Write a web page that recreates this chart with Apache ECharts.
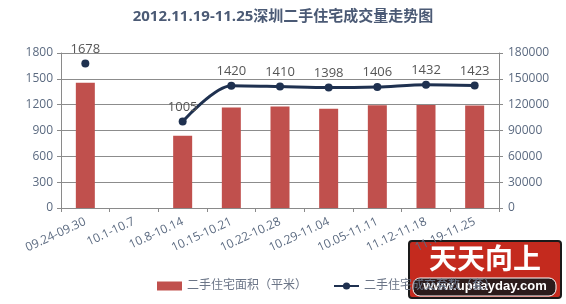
<!DOCTYPE html>
<html>
<head>
<meta charset="utf-8">
<script src="https://cdn.jsdelivr.net/npm/echarts@6/dist/echarts.min.js"></script>
<style>
  html, body { margin: 0; padding: 0; background: #fff; }
  #chart { width: 566px; height: 304px; }
</style>
</head>
<body>
<div id="chart"></div>
<script>
// Weekly second-hand housing deals in Shenzhen
const categories = ['09.24-09.30', '10.1-10.7', '10.8-10.14', '10.15-10.21', '10.22-10.28',
                    '10.29-11.04', '10.05-11.11', '11.12-11.18', '11.19-11.25'];
// floor area sold (m²), right axis
const areaValues = [145400, null, 83900, 116600, 117800, 115400, 119400, 119700, 119000];
// units sold, left axis
const unitValues = [1678, null, 1005, 1420, 1410, 1398, 1406, 1432, 1423];
const leftTicks = { min: 0, max: 1800, interval: 300 };
const rightTicks = { min: 0, max: 180000, interval: 30000 };

const FONT = "'Open Sans', 'Noto Sans CJK SC', sans-serif";
const LABEL_COLOR = '#5b6a80';
const AXIS_COLOR = '#8a8a8a';
const plain = v => String(v);

const chart = echarts.init(document.getElementById('chart'), null, { renderer: 'canvas' });
chart.setOption({
  animation: false,
  backgroundColor: '#fff',
  textStyle: { fontFamily: FONT },
  title: {
    text: '2012.11.19-11.25深圳二手住宅成交量走势图',
    left: 'center',
    top: 4,
    textStyle: { fontFamily: FONT, fontSize: 15, fontWeight: 'bold', color: '#4b5a75' }
  },
  grid: { left: 61, right: 67, top: 53, bottom: 96 },
  legend: {
    left: 152,
    top: 275,
    itemGap: 26,
    itemWidth: 25,
    itemHeight: 9,
    textStyle: { fontFamily: FONT, fontSize: 12, color: '#6b7587' },
    data: [
      { name: '二手住宅面积（平米）', icon: 'rect' },
      { name: '二手住宅成交套数（套）' }
    ]
  },
  xAxis: {
    type: 'category',
    data: categories,
    boundaryGap: true,
    axisLine: { lineStyle: { color: AXIS_COLOR, width: 1 } },
    axisTick: { show: true, length: 4, lineStyle: { color: AXIS_COLOR } },
    axisLabel: { interval: 0, rotate: 25, margin: 13, fontSize: 12, color: LABEL_COLOR, fontFamily: FONT }
  },
  yAxis: [
    {
      type: 'value',
      min: leftTicks.min, max: leftTicks.max, interval: leftTicks.interval,
      axisLine: { show: true, lineStyle: { color: AXIS_COLOR } },
      axisTick: { show: true, length: 4, lineStyle: { color: AXIS_COLOR } },
      axisLabel: { fontSize: 12, color: LABEL_COLOR, margin: 8, fontFamily: FONT, formatter: plain },
      splitLine: { show: true, lineStyle: { color: '#8c8c8c', width: 1 } }
    },
    {
      type: 'value',
      min: rightTicks.min, max: rightTicks.max, interval: rightTicks.interval,
      axisLine: { show: true, lineStyle: { color: AXIS_COLOR } },
      axisTick: { show: true, length: 4, lineStyle: { color: AXIS_COLOR } },
      axisLabel: { fontSize: 12, color: LABEL_COLOR, margin: 9, fontFamily: FONT, formatter: plain },
      splitLine: { show: false }
    }
  ],
  series: [
    {
      name: '二手住宅面积（平米）',
      type: 'bar',
      yAxisIndex: 1,
      data: areaValues,
      barWidth: 19,
      itemStyle: { color: '#c0504d' }
    },
    {
      name: '二手住宅成交套数（套）',
      type: 'line',
      yAxisIndex: 0,
      data: unitValues,
      smooth: 0.3,
      connectNulls: false,
      symbol: 'circle',
      symbolSize: 8,
      lineStyle: { color: '#1f3150', width: 3 },
      itemStyle: { color: '#1f3150' },
      label: {
        show: true, position: 'top', distance: 4,
        fontSize: 13, color: '#555', fontFamily: FONT
      },
      z: 5
    }
  ],
  graphic: [
    {
      type: 'group',
      left: 408,
      top: 240,
      z: 100,
      children: [
        { type: 'rect', shape: { x: 0, y: 0, width: 152, height: 57, r: 3 },
          style: { fill: '#c42a1e', stroke: '#1a1a1a', lineWidth: 2 } },
        { type: 'text', x: 76, y: 3,
          style: { text: '天天向上', fill: '#fff', fontSize: 28, fontWeight: 'bold',
                   fontFamily: 'Noto Sans CJK SC', align: 'center' } },
        { type: 'rect', shape: { x: 4, y: 37, width: 143, height: 18, r: 7 },
          style: { fill: '#2b1b1b', stroke: '#fff', lineWidth: 1 } },
        { type: 'text', x: 76, y: 39,
          style: { text: 'www.updayday.com', fill: '#fff', fontSize: 13, fontWeight: 'bold',
                   fontFamily: 'Liberation Sans', align: 'center' } }
      ]
    }
  ]
});
</script>
</body>
</html>
